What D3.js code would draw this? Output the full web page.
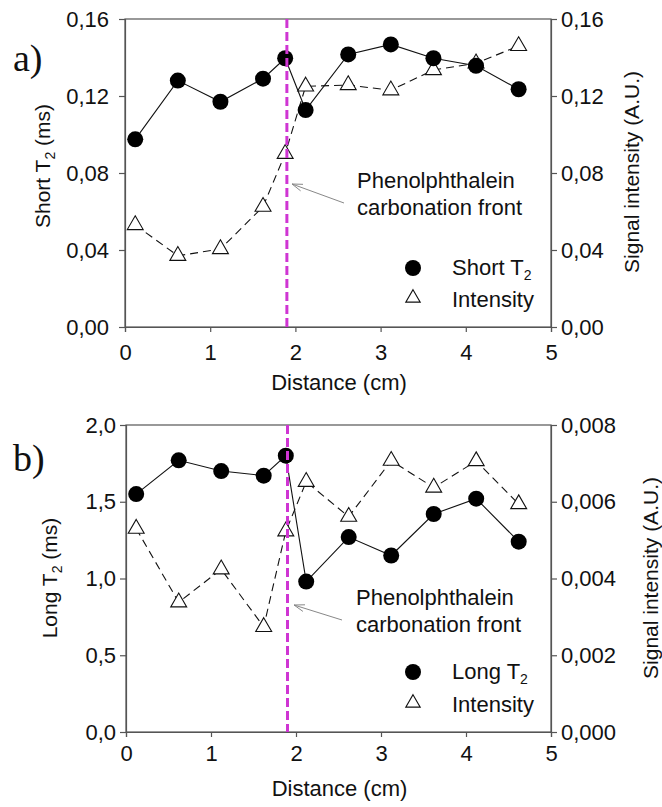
<!DOCTYPE html>
<html>
<head>
<meta charset="utf-8">
<script src="https://cdn.jsdelivr.net/npm/d3@7"></script>
<style>
  html, body { margin: 0; padding: 0; background: #fff; }
  svg { display: block; }
  text { font-family: "Liberation Sans", Arial, sans-serif; fill: #111; }
</style>
</head>
<body>
<svg id="chart" width="662" height="807"></svg>
<script>
// ---------- data ----------
const distance   = [0.12, 0.62, 1.12, 1.62, 1.88, 2.12, 2.62, 3.12, 3.62, 4.12, 4.62];
const shortT2    = [0.0975, 0.128, 0.117, 0.129, 0.1396, 0.1127, 0.1416, 0.1468, 0.1396, 0.1357, 0.1235];
const intensityA = [0.053, 0.037, 0.0405, 0.0625, 0.090, 0.125, 0.1257, 0.123, 0.1335, 0.137, 0.146];
const longT2     = [1.55, 1.77, 1.70, 1.67, 1.80, 0.98, 1.27, 1.15, 1.42, 1.52, 1.24];
const intensityB = [0.0053, 0.00338, 0.00424, 0.00274, 0.00523, 0.00652, 0.00561, 0.00707, 0.00637, 0.00706, 0.00594];
const frontPosition = 1.9;
const xTicks      = [0, 1, 2, 3, 4, 5];
const yTicksA     = [0, 0.04, 0.08, 0.12, 0.16];
const yTicksB     = [0, 0.5, 1.0, 1.5, 2.0];
const yRightTicksB= [0, 0.002, 0.004, 0.006, 0.008];
const annotationLines = ["Phenolphthalein", "carbonation front"];

const svg = d3.select("#chart");
const comma = (d, n) => d.toFixed(n).replace(".", ",");
const axisColor = "#555";
const magenta = "#cf35d3";

function panel(cfg) {
  const g = svg.append("g");
  const x = d3.scaleLinear().domain([0, 5]).range([cfg.left, cfg.right]);
  const yL = d3.scaleLinear().domain(cfg.yLdom).range([cfg.bottom, cfg.top]);
  const yR = d3.scaleLinear().domain(cfg.yRdom).range([cfg.bottom, cfg.top]);

  // frame
  g.append("rect").attr("x", cfg.left).attr("y", cfg.top)
    .attr("width", cfg.right - cfg.left).attr("height", cfg.bottom - cfg.top)
    .attr("fill", "none").attr("stroke", axisColor).attr("stroke-width", 1.2);

  // axes
  const ax = g.append("g").attr("transform", `translate(0,${cfg.bottom})`)
    .call(d3.axisBottom(x).tickValues(xTicks).tickSize(5).tickPadding(cfg.xPad).tickFormat(d => d));
  const ayl = g.append("g").attr("transform", `translate(${cfg.left},0)`)
    .call(d3.axisLeft(yL).tickValues(cfg.yLticks).tickSize(6).tickPadding(cfg.yLPad).tickFormat(d => comma(d, cfg.yLdec)));
  const ayr = g.append("g").attr("transform", `translate(${cfg.right},0)`)
    .call(d3.axisRight(yR).tickValues(cfg.yRticks).tickSize(6).tickPadding(4).tickFormat(d => comma(d, cfg.yRdec)));
  [ax, ayl, ayr].forEach(a => {
    a.select(".domain").attr("stroke", axisColor).attr("stroke-width", 1.2);
    a.selectAll(".tick line").attr("stroke", axisColor).attr("stroke-width", 1.2);
    a.selectAll(".tick text").attr("font-size", cfg.tickFont).attr("fill", "#111")
      .style("font-family", '"Liberation Sans", Arial, sans-serif');
  });

  const pts = distance.map((d, i) => ({x: d, a: cfg.primary[i], b: cfg.secondary[i]}));

  // intensity dashed line
  g.append("path").datum(pts)
    .attr("d", d3.line().x(d => x(d.x)).y(d => yR(d.b)))
    .attr("fill", "none").attr("stroke", "#111").attr("stroke-width", 1.1)
    .attr("stroke-dasharray", "8,5");
  // T2 solid line
  g.append("path").datum(pts)
    .attr("d", d3.line().x(d => x(d.x)).y(d => yL(d.a)))
    .attr("fill", "none").attr("stroke", "#111").attr("stroke-width", 1.1);

  const tri = d3.symbol().type(d3.symbolTriangle).size(110);
  g.selectAll(".tri").data(pts).enter().append("path")
    .attr("transform", d => `translate(${x(d.x)},${yR(d.b)})`)
    .attr("d", tri).attr("fill", "#fff").attr("stroke", "#111").attr("stroke-width", 1.1);
  g.selectAll(".dot").data(pts).enter().append("circle")
    .attr("cx", d => x(d.x)).attr("cy", d => yL(d.a)).attr("r", 8).attr("fill", "#000");

  // carbonation front line
  g.append("line").attr("x1", x(frontPosition)).attr("x2", x(frontPosition))
    .attr("y1", cfg.top).attr("y2", cfg.bottom)
    .attr("stroke", magenta).attr("stroke-width", 3).attr("stroke-dasharray", "9,4");

  // annotation arrow
  const ar = cfg.arrow;
  g.append("line").attr("x1", ar[0]).attr("y1", ar[1]).attr("x2", ar[2]).attr("y2", ar[3])
    .attr("stroke", "#888").attr("stroke-width", 1);
  const ang = Math.atan2(ar[3] - ar[1], ar[2] - ar[0]);
  const hl = 11, hw = 0.32;
  g.append("path")
    .attr("d", `M${ar[0] + hl * Math.cos(ang - hw)},${ar[1] + hl * Math.sin(ang - hw)} L${ar[0]},${ar[1]} L${ar[0] + hl * Math.cos(ang + hw)},${ar[1] + hl * Math.sin(ang + hw)}`)
    .attr("fill", "none").attr("stroke", "#888").attr("stroke-width", 1);
  annotationLines.forEach((t, i) => {
    g.append("text").attr("x", cfg.annX).attr("y", cfg.annY + i * 27)
      .attr("font-size", 22).text(t);
  });

  // legend
  g.append("circle").attr("cx", cfg.legX).attr("cy", cfg.legY1).attr("r", 8).attr("fill", "#000");
  const lt = g.append("text").attr("x", cfg.legX + 39).attr("y", cfg.legY1 + 7).attr("font-size", 22);
  lt.append("tspan").text(cfg.t2Name + " T");
  lt.append("tspan").attr("font-size", 14).attr("dy", 5).text("2");
  g.append("path").attr("transform", `translate(${cfg.legX},${cfg.legY2})`)
    .attr("d", d3.symbol().type(d3.symbolTriangle).size(90)).attr("fill", "#fff").attr("stroke", "#111").attr("stroke-width", 1.1);
  g.append("text").attr("x", cfg.legX + 39).attr("y", cfg.legY2 + 9).attr("font-size", 22).text("Intensity");

  // axis titles
  g.append("text").attr("text-anchor", "middle").attr("font-size", 22)
    .attr("x", (cfg.left + cfg.right) / 2 + 1).attr("y", cfg.xTitleY).text("Distance (cm)");
  const lt2 = g.append("text").attr("text-anchor", "middle").attr("font-size", 21)
    .attr("transform", `translate(${cfg.lTitleX},${cfg.lTitleY}) rotate(-90)`);
  lt2.append("tspan").text(cfg.t2Name + " T");
  lt2.append("tspan").attr("font-size", 14).attr("dy", 5).text("2");
  lt2.append("tspan").attr("dy", -5).text(" (ms)");
  g.append("text").attr("text-anchor", "middle").attr("font-size", 21)
    .attr("transform", `translate(${cfg.rTitleX},${cfg.rTitleY}) rotate(-90)`)
    .text("Signal intensity (A.U.)");

  // panel label
  g.append("text").attr("x", 13).attr("y", cfg.labelY).attr("font-size", 38)
    .style("font-family", '"Liberation Serif", "Times New Roman", serif').text(cfg.label);
}

panel({
  left: 125, right: 551, top: 19, bottom: 327,
  yLdom: [0, 0.16], yRdom: [0, 0.16], yLticks: yTicksA, yRticks: yTicksA, yLdec: 2, yRdec: 2,
  primary: shortT2, secondary: intensityA, tickFont: 22, xPad: 12, yLPad: 10,
  arrow: [292, 184, 344, 203], annX: 357, annY: 188,
  legX: 413, legY1: 268, legY2: 298, t2Name: "Short",
  xTitleY: 390, lTitleX: 50, lTitleY: 166, rTitleX: 639, rTitleY: 172,
  label: "a)", labelY: 71
});
panel({
  left: 126, right: 551, top: 425, bottom: 732,
  yLdom: [0, 2.0], yRdom: [0, 0.008], yLticks: yTicksB, yRticks: yRightTicksB, yLdec: 1, yRdec: 3,
  primary: longT2, secondary: intensityB, tickFont: 22, xPad: 8, yLPad: 4,
  arrow: [294, 605, 342, 620], annX: 356, annY: 605,
  legX: 413, legY1: 672, legY2: 703, t2Name: "Long",
  xTitleY: 796, lTitleX: 57, lTitleY: 578, rTitleX: 658, rTitleY: 578,
  label: "b)", labelY: 471
});
</script>
</body>
</html>
